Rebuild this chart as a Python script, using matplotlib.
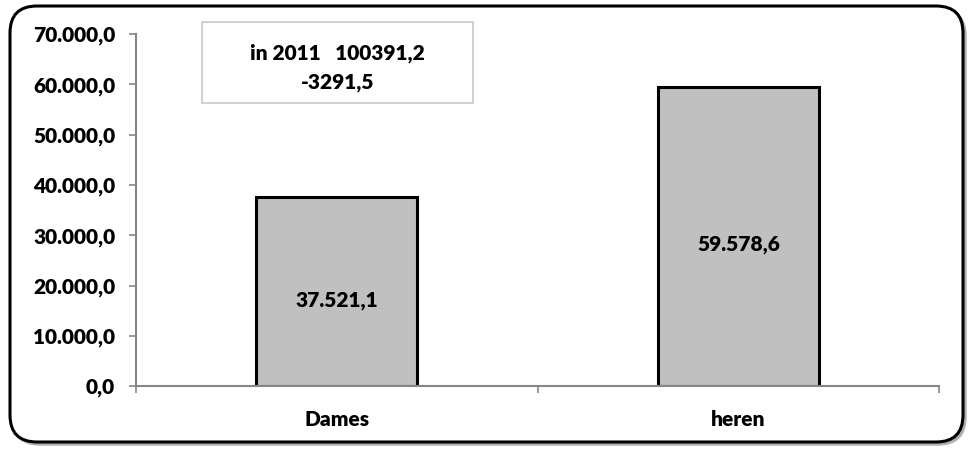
import matplotlib.pyplot as plt
from matplotlib.patches import FancyBboxPatch, Rectangle

# Дані графіка
categories = ["Dames", "heren"]
values = [37521.1, 59578.6]
value_labels = ["37.521,1", "59.578,6"]
y_ticks = [0, 10000, 20000, 30000, 40000, 50000, 60000, 70000]
y_tick_labels = ["0,0", "10.000,0", "20.000,0", "30.000,0", "40.000,0",
                 "50.000,0", "60.000,0", "70.000,0"]
note_lines = ["in 2011   100391,2", "-3291,5"]

plt.rcParams['font.family'] = ['Lato', 'DejaVu Sans']
plt.rcParams['font.weight'] = 'heavy'
fs = 15
fw = 'heavy'

fig = plt.figure(figsize=(9.7, 4.5), dpi=100)

# Закруглена рамка з тінню
shadow = FancyBboxPatch((0.13, 0.06), 9.52, 4.35,
                        boxstyle="round,pad=0,rounding_size=0.27",
                        transform=fig.dpi_scale_trans, facecolor="none",
                        edgecolor="#b0b0b0", linewidth=2.5, zorder=0)
frame = FancyBboxPatch((0.1, 0.08), 9.53, 4.36,
                       boxstyle="round,pad=0,rounding_size=0.27",
                       transform=fig.dpi_scale_trans, facecolor="white",
                       edgecolor="black", linewidth=2.2, zorder=1)
fig.patches.extend([shadow, frame])

ax = fig.add_axes([0.1402, 0.142, 0.828, 0.782])
ax.set_zorder(2)
ax.patch.set_visible(False)

x = list(range(len(categories)))
ax.bar(x, values, width=0.40, color="#c0c0c0", edgecolor="black", linewidth=2.2)

for i, v in enumerate(values):
    ax.annotate(value_labels[i], (i, v / 2), xytext=(0, -6), textcoords="offset points",
                ha="center", va="center", fontsize=fs, fontweight=fw)

ax.set_xlim(-0.5, 1.5)
ax.set_ylim(0, 70000)
ax.set_yticks(y_ticks)
ax.set_yticklabels(y_tick_labels, fontweight=fw)
ax.set_xticks(x)
ax.set_xticklabels(categories, fontweight=fw)
ax.set_xticks([-0.5, 0.5, 1.5], minor=True)

for s in ["top", "right"]:
    ax.spines[s].set_visible(False)
for s in ["left", "bottom"]:
    ax.spines[s].set_color("#868686")
    ax.spines[s].set_linewidth(1.5)

ax.tick_params(axis="y", length=5, width=1.2, color="#868686", pad=10, labelsize=fs)
ax.tick_params(axis="x", which="major", length=0, pad=17, labelsize=fs)
ax.tick_params(axis="x", which="minor", length=5, width=1.2, color="#868686")

# Текстове поле з приміткою
box = Rectangle((202 / 970, 1 - 103 / 450), 271 / 970, 81 / 450, transform=fig.transFigure,
                facecolor="white", edgecolor="#c8c8c8", linewidth=1.2, zorder=3)
fig.patches.append(box)
fig.text(337.5 / 970, 1 - 53 / 450, note_lines[0], ha="center", va="center",
         fontsize=fs, fontweight=fw, zorder=4)
fig.text(337.5 / 970, 1 - 83 / 450, note_lines[1], ha="center", va="center",
         fontsize=fs, fontweight=fw, zorder=4)

fig.savefig("out.png", dpi=100)
